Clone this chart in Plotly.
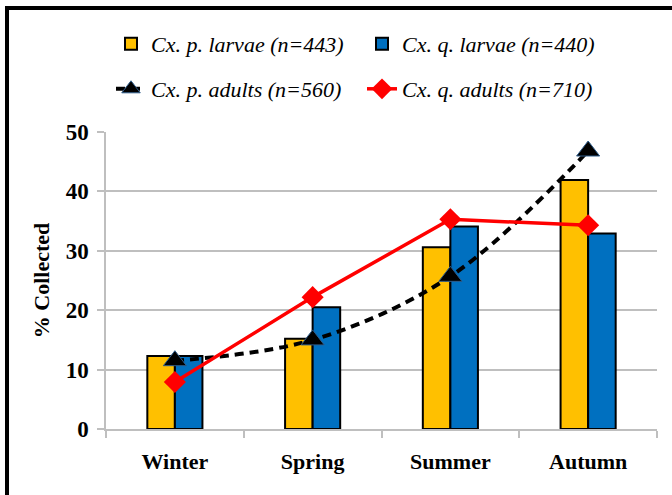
import plotly.graph_objects as go

seasons = ["Winter", "Spring", "Summer", "Autumn"]
cxp_larvae = [12.3, 15.2, 30.6, 41.9]
cxq_larvae = [12.3, 20.5, 34.1, 32.9]
cxp_adults = [11.5, 15.0, 25.7, 46.8]
cxq_adults = [7.9, 22.2, 35.3, 34.3]

names = ["Cx. p. larvae (n=443)", "Cx. q. larvae (n=440)",
         "Cx. p. adults (n=560)", "Cx. q. adults (n=710)"]

W, H = 672, 495
ML, MR, MT, MB = 106, 15, 132, 66
PW = W - ML - MR
PH = H - MT - MB

def px_x(p):
    return (p - ML) / PW

def px_y(p):
    return 1 - (p - MT) / PH

FONT = "Liberation Serif"

fig = go.Figure()
fig.add_trace(go.Bar(x=seasons, y=cxp_larvae, name=names[0],
                     marker=dict(color="#FFC000", line=dict(color="black", width=2)),
                     legend="legend"))
fig.add_trace(go.Bar(x=seasons, y=cxq_larvae, name=names[1],
                     marker=dict(color="#0070C0", line=dict(color="black", width=2)),
                     legend="legend"))
fig.add_trace(go.Scatter(x=seasons, y=cxp_adults, name=names[2], mode="lines+markers",
                         line=dict(color="black", width=4, dash="9px,6px", shape="spline"),
                         marker=dict(symbol="triangle-up", size=20, color="black",
                                     line=dict(color="#2E5C8A", width=1)),
                         legend="legend2"))
fig.add_trace(go.Scatter(x=seasons, y=cxq_adults, name=names[3], mode="lines+markers",
                         line=dict(color="#FF0000", width=3.5),
                         marker=dict(symbol="diamond", size=17, color="#FF0000"),
                         legend="legend2"))

legend_common = dict(orientation="h", xanchor="left", yanchor="middle",
                     font=dict(family=FONT, size=22, color="black", style="italic"),
                     entrywidth=206, entrywidthmode="pixels",
                     bgcolor="rgba(0,0,0,0)", itemclick=False)

fig.update_layout(
    width=W, height=H,
    margin=dict(l=ML, r=MR, t=MT, b=MB),
    paper_bgcolor="white", plot_bgcolor="white",
    barmode="group", bargap=0.6, bargroupgap=0,
    font=dict(family=FONT, color="black"),
    legend=dict(x=px_x(111), y=px_y(44), **legend_common),
    legend2=dict(x=px_x(111), y=px_y(89), **legend_common),
    xaxis=dict(type="category", showline=True, linecolor="#BFBFBF", linewidth=1.5,
               ticks="outside", tickson="boundaries", ticklen=7, tickcolor="#BFBFBF",
               tickwidth=1.5, showgrid=False, ticklabelstandoff=12,
               tickfont=dict(family=FONT, size=22, color="black", weight="bold")),
    yaxis=dict(range=[0, 50], dtick=10, showline=True, linecolor="#BFBFBF", linewidth=1.5,
               ticks="outside", ticklen=7, tickcolor="#BFBFBF", tickwidth=1.5,
               showgrid=True, gridcolor="#BFBFBF", gridwidth=1.5, zeroline=False,
               ticklabelstandoff=4,
               tickfont=dict(family=FONT, size=23, color="black", weight="bold"),
               title=dict(text="% Collected", standoff=10,
                          font=dict(family=FONT, size=22, color="black", weight="bold"))),
    shapes=[
        dict(type="line", xref="paper", yref="paper", x0=px_x(7), x1=px_x(7),
             y0=px_y(6), y1=px_y(505), line=dict(color="black", width=4), layer="above"),
        dict(type="line", xref="paper", yref="paper", x0=px_x(5), x1=px_x(690),
             y0=px_y(8), y1=px_y(8), line=dict(color="black", width=4), layer="above"),
    ],
)

fig.write_html("out.html", config={"displayModeBar": False},
               post_script="document.body.style.margin='0';")
